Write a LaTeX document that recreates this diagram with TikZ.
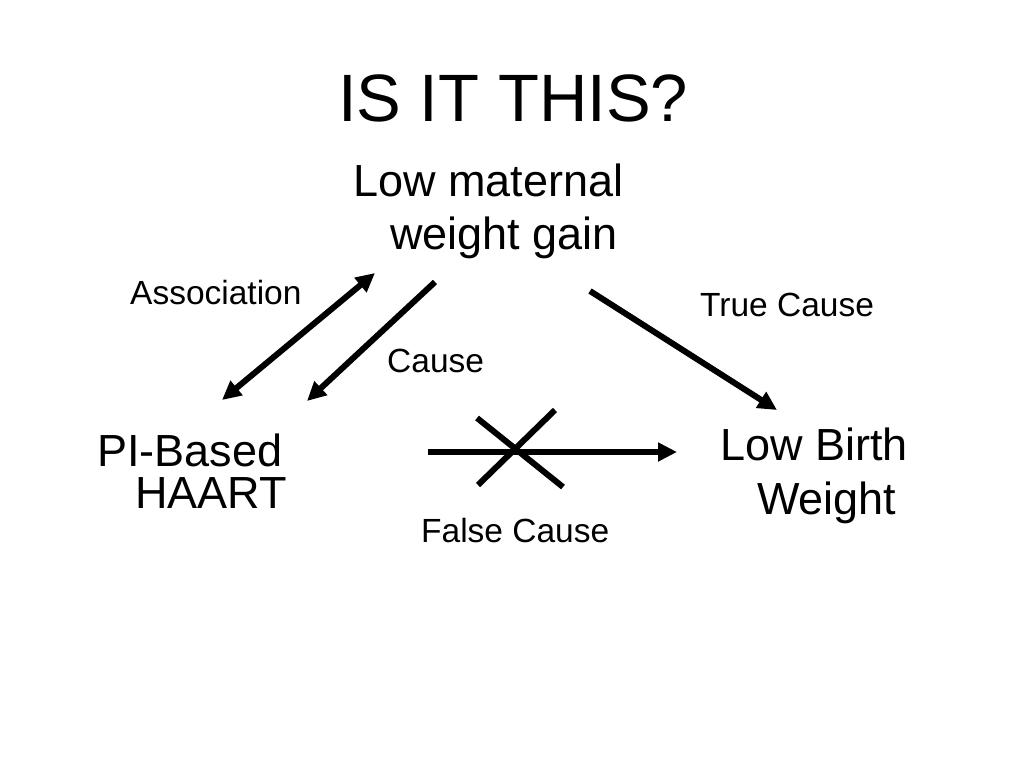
\documentclass[tikz,border=0pt]{standalone}
\usepackage{fontspec}
\setmainfont{Liberation Sans}
\usetikzlibrary{arrows.meta}
\begin{document}
\begin{tikzpicture}[x=1pt,y=-1pt,
  big/.style={font=\fontsize{45}{54}\selectfont,inner sep=0pt,anchor=base west},
  small/.style={font=\fontsize{33.5}{40}\selectfont,inner sep=0pt,anchor=base west},
  arr/.style={line width=6pt,-{Triangle[length=19pt,width=18pt]}},
  plain/.style={line width=6pt}]
\useasboundingbox[fill=white] (0,0) rectangle (1024,768);
\node[font=\fontsize{67}{80}\selectfont,inner sep=0pt,anchor=base] (title) at (513,121) {IS IT THIS?};
\node[big] (lm1) at (353,196) {Low maternal};
\node[big] (lm2) at (390,249) {weight gain};
\node[big] (pi1) at (97,466) {PI-Based};
\node[big] (pi2) at (135,508) {HAART};
\node[big] (lb1) at (720,460) {Low Birth};
\node[big] (lb2) at (757,514) {Weight};
\node[small] (assoc) at (130,304) {Association};
\node[small] (cause) at (387,372) {Cause};
\node[small] (true) at (700,316) {True Cause};
\node[small] (false) at (421,542) {False Cause};
\coordinate (a1) at (222,400);
\coordinate (a2) at (375,273);
\coordinate (c1) at (435,282);
\coordinate (c2) at (307,401);
\coordinate (t1) at (590,291);
\coordinate (t2) at (777,410);
\coordinate (h1) at (428,452);
\coordinate (h2) at (677,452);
\coordinate (x1) at (477,418);
\coordinate (x2) at (563,487);
\coordinate (x3) at (555,410);
\coordinate (x4) at (478,485);
\draw[arr,{Triangle[length=19pt,width=18pt]}-{Triangle[length=19pt,width=18pt]}] (a1) -- (a2);
\draw[arr] (c1) -- (c2);
\draw[arr] (t1) -- (t2);
\draw[arr] (h1) -- (h2);
\draw[plain] (x1) -- (x2);
\draw[plain] (x3) -- (x4);
\end{tikzpicture}
\end{document}
